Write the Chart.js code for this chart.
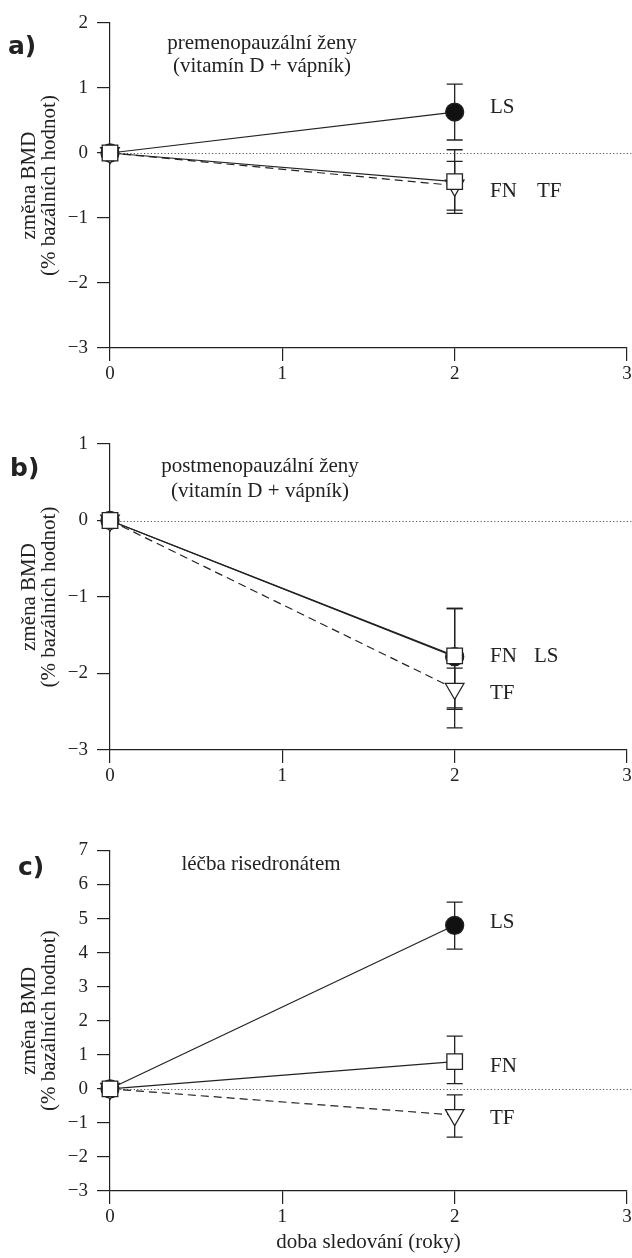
<!DOCTYPE html>
<html><head><meta charset="utf-8">
<script src="https://cdn.jsdelivr.net/npm/chart.js@4.4.1/dist/chart.umd.min.js"></script>
<style>
html,body{margin:0;padding:0;background:#fff;width:632px;height:1258px;overflow:hidden;position:relative;}
canvas{position:absolute;left:0;}
.t{position:absolute;font-family:'Liberation Serif',serif;font-size:21px;color:#222;line-height:21px;white-space:nowrap;transform:translateY(-50%);}
.ctr{transform:translate(-50%,-50%);text-align:center;}
.p{position:absolute;font-family:'DejaVu Sans',sans-serif;font-weight:bold;font-size:25px;color:#222;line-height:25px;transform:translateY(-50%);}
</style></head><body>
<canvas id="ca" style="top:0px" width="650" height="410"></canvas>
<canvas id="cb" style="top:410px" width="650" height="420"></canvas>
<canvas id="cc" style="top:830px" width="650" height="428"></canvas>

<div class="p" style="left:8px;top:45px">a)</div>
<div class="t ctr" style="left:262px;top:42px">premenopauzální ženy</div>
<div class="t ctr" style="left:262px;top:65px">(vitamín D + vápník)</div>
<div class="t" style="left:490px;top:106px">LS</div>
<div class="t" style="left:490px;top:190px">FN</div>
<div class="t" style="left:537px;top:190px">TF</div>

<div class="p" style="left:10px;top:467px">b)</div>
<div class="t ctr" style="left:260px;top:465px">postmenopauzální ženy</div>
<div class="t ctr" style="left:260px;top:490px">(vitamín D + vápník)</div>
<div class="t" style="left:490px;top:655px">FN</div>
<div class="t" style="left:534px;top:655px">LS</div>
<div class="t" style="left:490px;top:692px">TF</div>

<div class="p" style="left:18px;top:866px">c)</div>
<div class="t ctr" style="left:261px;top:863px">léčba risedronátem</div>
<div class="t" style="left:490px;top:921px">LS</div>
<div class="t" style="left:490px;top:1065px">FN</div>
<div class="t" style="left:490px;top:1117px">TF</div>

<script>
// ---- data ----
const years = [0, 2];
const xTicks = [0, 1, 2, 3];

// panel a: premenopausal women
const aYTicks = [-3, -2, -1, 0, 1, 2];
const aLS = [0, 0.63], aLSHi = [0, 1.06], aLSLo = [0, 0.20];
const aFN = [0, -0.44], aFNHi = [0, 0.05], aFNLo = [0, -0.93];
const aTF = [0, -0.50], aTFHi = [0, -0.13], aTFLo = [0, -0.88];

// panel b: postmenopausal women
const bYTicks = [-3, -2, -1, 0, 1];
const bLS = [0, -1.78], bLSHi = [0, -1.15], bLSLo = [0, -2.47];
const bFN = [0, -1.77], bFNHi = [0, -1.15], bFNLo = [0, -2.45];
const bTF = [0, -2.20], bTFHi = [0, -1.93], bTFLo = [0, -2.71];

// panel c: risedronate
const cYTicks = [-3, -2, -1, 0, 1, 2, 3, 4, 5, 6, 7];
const cLS = [0, 4.80], cLSHi = [0, 5.48], cLSLo = [0, 4.10];
const cFN = [0, 0.80], cFNHi = [0, 1.55], cFNLo = [0, 0.15];
const cTF = [0, -0.77], cTFHi = [0, -0.18], cTFLo = [0, -1.42];

const yTitle = ['změna BMD', '(% bazálních hodnot)'];
const xTitle = 'doba sledování (roky)';

// ---- drawing ----
const INK = '#222';
const SERIF = "'Liberation Serif', serif";

const zeroLine = {
  id: 'zeroLine',
  beforeDatasetsDraw(chart) {
    const {ctx, chartArea, scales: {y}} = chart;
    const py = Math.round(y.getPixelForValue(0)) + 0.5;
    ctx.save();
    ctx.strokeStyle = '#555';
    ctx.lineWidth = 1;
    ctx.setLineDash([1.2, 2.2]);
    ctx.beginPath();
    ctx.moveTo(chartArea.left, py);
    ctx.lineTo(chartArea.right + 5, py);
    ctx.stroke();
    ctx.restore();
  }
};

const errorBars = {
  id: 'errorBars',
  beforeDatasetsDraw(chart) {
    const {ctx, scales: {x, y}} = chart;
    ctx.save();
    ctx.strokeStyle = INK;
    ctx.lineWidth = 1.3;
    chart.data.datasets.forEach(ds => {
      ds.data.forEach((p, i) => {
        const hi = ds.hi[i], lo = ds.lo[i];
        if (hi === lo) return;
        const px = x.getPixelForValue(p.x);
        const y1 = y.getPixelForValue(hi), y2 = y.getPixelForValue(lo);
        ctx.beginPath();
        ctx.moveTo(px, y1); ctx.lineTo(px, y2);
        ctx.moveTo(px - 8, y1); ctx.lineTo(px + 8, y1);
        ctx.moveTo(px - 8, y2); ctx.lineTo(px + 8, y2);
        ctx.stroke();
      });
    });
    ctx.restore();
  }
};

function fmt(v) { return v < 0 ? '\u2212' + Math.abs(v) : String(v); }

function series(name, vals, hi, lo, kind) {
  const st = {
    FN: {style: 'rect', r: 11, fill: '#fff', rot: 0, dash: []},
    TF: {style: 'triangle', r: 10.7, fill: '#fff', rot: 180, dash: [8, 5]},
    LS: {style: 'circle', r: 9, fill: '#111', rot: 0, dash: []}
  }[kind];
  return {
    label: name,
    data: years.map((yr, i) => ({x: yr, y: vals[i]})),
    hi: hi, lo: lo,
    borderColor: INK, borderWidth: 1.2, borderDash: st.dash,
    pointStyle: st.style, pointRadius: st.r, pointRotation: st.rot,
    pointBackgroundColor: st.fill, pointBorderColor: INK, pointBorderWidth: 1.3,
    clip: false, tension: 0, fill: false
  };
}

function panel(id, yTicks, topPad, xAxisH, datasets, showXTitle) {
  const axisGrid = {display: true, drawOnChartArea: false, drawTicks: true, tickLength: 13, color: INK, lineWidth: 1.2};
  const axisBorder = {display: true, color: INK, width: 1.2};
  new Chart(document.getElementById(id), {
    type: 'line',
    data: {datasets: datasets},
    options: {
      responsive: false, animation: false, events: [], devicePixelRatio: 1,
      layout: {autoPadding: false, padding: {top: topPad, right: 23, left: 0, bottom: 0}},
      plugins: {legend: {display: false}, tooltip: {enabled: false}},
      scales: {
        x: {
          type: 'linear', min: xTicks[0], max: xTicks[xTicks.length - 1],
          grid: axisGrid, border: axisBorder,
          afterBuildTicks: s => { s.ticks = xTicks.map(v => ({value: v})); },
          afterFit: s => { s.height = xAxisH; },
          ticks: {font: {family: SERIF, size: 19}, color: INK, padding: 2, maxRotation: 0, autoSkip: false, callback: fmt},
          title: {display: showXTitle, text: xTitle, font: {family: SERIF, size: 21, lineHeight: 1}, color: INK, padding: {top: 0, bottom: 5}}
        },
        y: {
          type: 'linear', min: yTicks[0], max: yTicks[yTicks.length - 1],
          grid: axisGrid, border: axisBorder,
          afterBuildTicks: s => { s.ticks = yTicks.map(v => ({value: v})); },
          afterFit: s => { s.width = 110; },
          ticks: {font: {family: SERIF, size: 19}, color: INK, padding: 9, autoSkip: false, callback: fmt},
          title: {display: true, text: yTitle, font: {family: SERIF, size: 21, lineHeight: 20 / 21}, color: INK, padding: {top: 19, bottom: 0}}
        }
      }
    },
    plugins: [zeroLine, errorBars]
  });
}

panel('ca', aYTicks, 23, 62, [
  series('FN', aFN, aFNHi, aFNLo, 'FN'),
  series('TF', aTF, aTFHi, aTFLo, 'TF'),
  series('LS', aLS, aLSHi, aLSLo, 'LS')
], false);

panel('cb', bYTicks, 34, 80, [
  series('FN', bFN, bFNHi, bFNLo, 'FN'),
  series('TF', bTF, bTFHi, bTFLo, 'TF'),
  series('LS', bLS, bLSHi, bLSLo, 'LS')
], false);

panel('cc', cYTicks, 15, 67, [
  series('FN', cFN, cFNHi, cFNLo, 'FN'),
  series('TF', cTF, cTFHi, cTFLo, 'TF'),
  series('LS', cLS, cLSHi, cLSLo, 'LS')
], true);
</script>
</body></html>
